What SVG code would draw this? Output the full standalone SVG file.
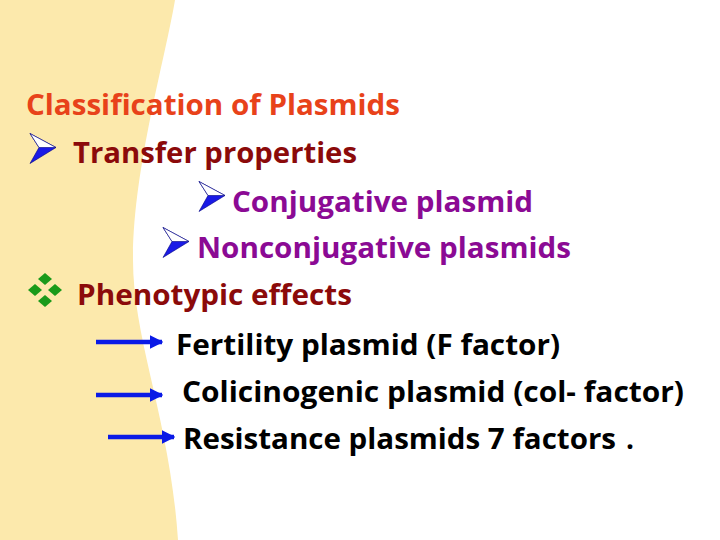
<svg xmlns="http://www.w3.org/2000/svg" width="720" height="540" viewBox="0 0 720 540">
<defs>
<style>
text{font-family:"Open Sans","Liberation Sans",sans-serif;font-weight:bold;font-size:28px}
.t{fill:#e8421a}.m{fill:#8b0a0a}.p{fill:#8b0a94}.k{fill:#000}
.bl{fill:#1a1ae6;stroke:#000080;stroke-width:0.6}
.ar{stroke:#0a1ae6;stroke-width:4.5}
</style>
<symbol id="chev" viewBox="0 0 28 32"><path class="bl" d="M1,1 L27,15 L1,31 L10,15 Z"/><path d="M1,1 L27,15 L10,15 Z" fill="#fff" stroke="#000080" stroke-width="0.6"/></symbol>
<marker id="ah" viewBox="0 0 10 10" refX="9" refY="5" markerWidth="3" markerHeight="3" orient="auto"><path d="M0,0 L10,5 L0,10 Z" fill="#0a1ae6"/></marker>
</defs>
<rect width="720" height="540" fill="#fff"/>
<path d="M0,0 H175 C165,60 133,170 133,260 C133,340 170,420 178,540 H0 Z" fill="#fce9ac"/>
<g id="title"><text class="t" x="26" y="115" textLength="374" lengthAdjust="spacingAndGlyphs">Classification of Plasmids</text></g>
<g id="transfer"><use href="#chev" x="29" y="132" width="28" height="33"/><text class="m" x="73" y="163" textLength="284" lengthAdjust="spacingAndGlyphs">Transfer properties</text></g>
<g id="conj"><use href="#chev" x="198" y="180" width="28" height="33"/><text class="p" x="232" y="212" textLength="301" lengthAdjust="spacingAndGlyphs">Conjugative plasmid</text></g>
<g id="nonconj"><use href="#chev" x="162" y="226" width="28" height="33"/><text class="p" x="197" y="258" textLength="374" lengthAdjust="spacingAndGlyphs">Nonconjugative plasmids</text></g>
<g id="pheno"><g fill="#1a9a1a"><path d="M45,273 l7,6 l-7,6 l-7,-6Z"/><path d="M35,284 l7,6 l-7,6 l-7,-6Z"/><path d="M55,284 l7,6 l-7,6 l-7,-6Z"/><path d="M45,295 l7,6 l-7,6 l-7,-6Z"/></g><text class="m" x="77" y="305" textLength="275" lengthAdjust="spacingAndGlyphs">Phenotypic effects</text></g>
<g id="fert"><text class="k" x="176" y="355" textLength="384" lengthAdjust="spacingAndGlyphs">Fertility plasmid (F factor)</text></g>
<g id="coli"><text class="k" x="182" y="402" textLength="502" lengthAdjust="spacingAndGlyphs">Colicinogenic plasmid (col- factor)</text></g>
<g id="resist"><text class="k" x="183" y="449" textLength="433" lengthAdjust="spacingAndGlyphs">Resistance plasmids 7 factors</text><text class="k" x="626" y="449" font-size="22">.</text></g>
<g id="connectors">
<line class="ar" x1="96" y1="342" x2="162" y2="342" marker-end="url(#ah)"/>
<line class="ar" x1="96" y1="395" x2="162" y2="395" marker-end="url(#ah)"/>
<line class="ar" x1="108" y1="437" x2="174" y2="437" marker-end="url(#ah)"/>
</g>
</svg>
